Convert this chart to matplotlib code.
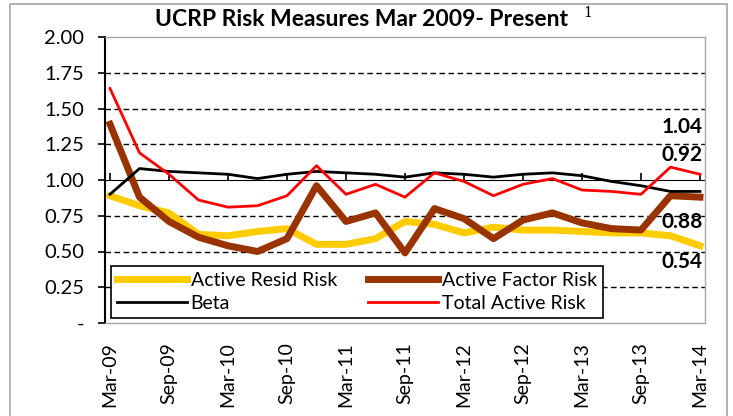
import matplotlib.pyplot as plt
from matplotlib.patches import Rectangle

# quarterly points, Mar-09 .. Mar-14
quarters = list(range(21))
tick_labels = ["Mar-09", "Sep-09", "Mar-10", "Sep-10", "Mar-11", "Sep-11",
               "Mar-12", "Sep-12", "Mar-13", "Sep-13", "Mar-14"]

resid_risk = [0.89, 0.82, 0.77, 0.62, 0.61, 0.64, 0.66, 0.55, 0.55, 0.59, 0.71,
              0.69, 0.63, 0.67, 0.65, 0.65, 0.64, 0.63, 0.63, 0.61, 0.54]
factor_risk = [1.39, 0.88, 0.71, 0.60, 0.54, 0.50, 0.59, 0.96, 0.71, 0.77, 0.49,
               0.80, 0.73, 0.59, 0.72, 0.77, 0.70, 0.66, 0.65, 0.89, 0.88]
beta = [0.90, 1.08, 1.06, 1.05, 1.04, 1.01, 1.04, 1.06, 1.05, 1.04, 1.02,
        1.05, 1.04, 1.02, 1.04, 1.05, 1.03, 0.99, 0.96, 0.92, 0.92]
total_risk = [1.64, 1.19, 1.04, 0.86, 0.81, 0.82, 0.89, 1.10, 0.90, 0.97, 0.88,
              1.05, 0.99, 0.89, 0.97, 1.01, 0.93, 0.92, 0.90, 1.09, 1.04]

plt.rcParams['font.family'] = ['Lato', 'DejaVu Sans']

fig = plt.figure(figsize=(7.33, 4.16), dpi=100)
ax = fig.add_axes([105 / 733, 1 - 323 / 416, 600 / 733, 286 / 416])

# outer chart border
fig.patches.append(Rectangle((10 / 733, -0.05), 717 / 733, 1.04, transform=fig.transFigure,
                             fill=False, edgecolor="#a6a6a6", linewidth=1.2))

for y in [0.25, 0.5, 0.75, 1.25, 1.5, 1.75]:
    ax.axhline(y, color="black", linestyle=(0, (4, 2.5)), linewidth=1.0, zorder=1)

l1, = ax.plot(quarters, resid_risk, color="#ffcc00", linewidth=5, solid_joinstyle="round",
              label="Active Resid Risk", zorder=3)
l2, = ax.plot(quarters, factor_risk, color="#993300", linewidth=5, solid_joinstyle="round",
              label="Active Factor Risk", zorder=4)
l3, = ax.plot(quarters, beta, color="black", linewidth=2.0, label="Beta", zorder=5)
l4, = ax.plot(quarters, total_risk, color="#ff0000", linewidth=2.0, label="Total Active Risk", zorder=6)

ax.set_xlim(-0.17, 20.17)
ax.set_ylim(0, 2)

ax.set_yticks([i * 0.25 for i in range(9)])
ax.set_yticklabels(["-"] + ["%.2f" % (i * 0.25) for i in range(1, 9)], fontsize=14.5)
ax.tick_params(axis="y", direction="out", length=5, width=1.2, pad=10)

ax.set_xticks(quarters[::2])
ax.set_xticklabels(tick_labels, rotation=90, fontsize=14)
ax.tick_params(axis="x", length=0, pad=14)

for side in ["top", "right", "bottom"]:
    ax.spines[side].set_color("#a6a6a6")
    ax.spines[side].set_linewidth(1.0)
ax.spines["left"].set_color("black")
ax.spines["left"].set_linewidth(1.5)

# category axis crosses at 1.00
sec = ax.secondary_xaxis(0.5)
sec.set_xticks(quarters[::2])
sec.set_xticklabels([])
sec.tick_params(direction="out", length=5, width=1.2)
sec.spines["bottom"].set_linewidth(1.5)

# end-of-series value labels
label_offsets = [-12, -18, 26, 34]
for series, off in zip([resid_risk, factor_risk, beta, total_risk], label_offsets):
    ax.annotate("%.2f" % series[-1], (quarters[-1], series[-1]), xytext=(2, off),
                textcoords="offset points", ha="right", va="center",
                fontsize=15, fontweight="bold", zorder=8)

# row-wise legend order like the original
leg = ax.legend(handles=[l1, l3, l2, l4], ncol=2, loc="lower left",
                bbox_to_anchor=(0.01, 0.018), borderaxespad=0, fontsize=14, frameon=True,
                fancybox=False, edgecolor="black", framealpha=1, handlelength=3.6,
                handletextpad=0.2, columnspacing=1.6, borderpad=0.3, labelspacing=0.3)
leg.get_frame().set_linewidth(1.2)
leg.set_zorder(7)

fig.text(0.493, 0.952, "UCRP Risk Measures Mar 2009- Present", ha="center", va="center",
         fontsize=16.5, fontweight="bold")
fig.text(0.802, 0.968, "1", ha="center", va="center", fontsize=10, family="DejaVu Serif")

fig.savefig("out.png", dpi=100)
